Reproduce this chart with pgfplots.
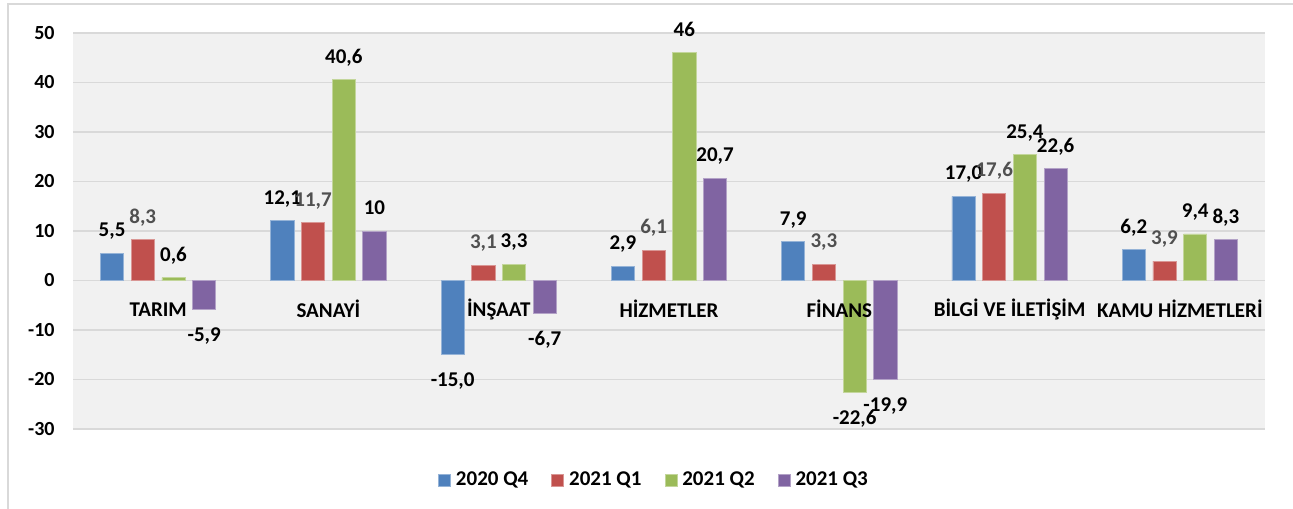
\documentclass[border=0pt]{standalone}
\usepackage{pgfplots}
\usepackage{pgfplotstable}
\pgfplotsset{compat=1.18}
\usepackage{fontspec}
\setmainfont{Carlito}
\definecolor{cBlue}{HTML}{4F81BD}
\definecolor{cRed}{HTML}{C0504D}
\definecolor{cGreen}{HTML}{9BBB59}
\definecolor{cPurple}{HTML}{8064A2}
\definecolor{bgcol}{HTML}{F1F1F1}
\definecolor{gridcol}{HTML}{D9D9D9}
\definecolor{lblgray}{HTML}{505050}

\pgfplotstableread{
x y l
0 5.5 5,5
1 12.1 12,1
2 -15.0 -15,0
3 2.9 2,9
4 7.9 7,9
5 17.0 17,0
6 6.2 6,2
}\qa
\pgfplotstableread{
x y l
0 8.3 8,3
1 11.7 11,7
2 3.1 3,1
3 6.1 6,1
4 3.3 3,3
5 17.6 17,6
6 3.9 3,9
}\qb
\pgfplotstableread{
x y l
0 0.6 0,6
1 40.6 40,6
2 3.3 3,3
3 46 46
4 -22.6 -22,6
5 25.4 25,4
6 9.4 9,4
}\qc
\pgfplotstableread{
x y l
0 -5.9 -5,9
1 10 10
2 -6.7 -6,7
3 20.7 20,7
4 -19.9 -19,9
5 22.6 22,6
6 8.3 8,3
}\qd

\begin{document}
\begin{tikzpicture}
\draw[gridcol, line width=0.8pt] (4pt,-2pt) rectangle (700pt,-300pt);
\begin{axis}[
  at={(36.5pt,-214.5pt)}, anchor=south west,
  scale only axis, width=596pt, height=198pt,
  xmin=-0.5, xmax=6.5, ymin=-30, ymax=50,
  axis background/.style={fill=bgcol},
  axis line style={draw=none},
  ymajorgrids, grid style={gridcol, line width=0.8pt},
  ytick={-30,-20,-10,0,10,20,30,40,50},
  yticklabels={-30,-20,-10,0,10,20,30,40,50},
  xtick=\empty,
  major tick length=0pt,
  yticklabel style={font=\fontsize{10}{12}\selectfont\bfseries, anchor=east, inner sep=0pt, xshift=-9pt},
  ybar, bar width=11.6pt,
  point meta=explicit symbolic,
  visualization depends on={rawy \as \rawy},
  nodes near coords,
  nodes near coords align=vertical,
  every node near coord/.append style={font=\fontsize{10.5}{12}\selectfont\bfseries, inner xsep=0pt, inner ysep=0pt, text height=6.8pt, text depth=0pt, yshift={8pt-(\rawy<0)*24.3pt}},
  legend columns=4,
  legend style={at={(0.4887,-0.129)}, anchor=center, draw=none, fill=none,
    font=\fontsize{10.5}{12}\selectfont\bfseries,
    /tikz/every even column/.append style={column sep=9pt},
    nodes={inner xsep=2.5pt}},
  legend image code/.code={\fill[#1] (0pt,-3pt) rectangle (6pt,3pt);},
  clip=false,
]
\addplot[fill=cBlue, draw=cBlue!60!white, line width=0.4pt, bar shift=-23.03pt, every node near coord/.append style={text=black}] table[x=x,y=y,meta=l] {\qa};
\addplot[fill=cRed, draw=cRed!60!white, line width=0.4pt, bar shift=-7.68pt, every node near coord/.append style={text=lblgray}] table[x=x,y=y,meta=l] {\qb};
\addplot[fill=cGreen, draw=cGreen!60!white, line width=0.4pt, bar shift=7.68pt, every node near coord/.append style={text=black}] table[x=x,y=y,meta=l] {\qc};
\addplot[fill=cPurple, draw=cPurple!60!white, line width=0.4pt, bar shift=23.03pt, every node near coord/.append style={text=black}] table[x=x,y=y,meta=l] {\qd};
\legend{2020 Q4, 2021 Q1, 2021 Q2, 2021 Q3}
\begin{scope}[every node/.style={font=\fontsize{10.5}{12}\selectfont\bfseries, text=black}]
\node at (axis cs:0,-5.8) {TARIM};
\node at (axis cs:1,-5.8) {SANAYİ};
\node at (axis cs:2,-5.8) {İNŞAAT};
\node at (axis cs:3,-5.8) {HİZMETLER};
\node at (axis cs:4,-5.8) {FİNANS};
\node at (axis cs:5,-5.8) {BİLGİ VE İLETİŞİM};
\node at (axis cs:6,-5.8) {KAMU HİZMETLERİ};
\end{scope}
\end{axis}
\pgfresetboundingbox
\useasboundingbox (0,0) rectangle (646.5pt,-254pt);
\end{tikzpicture}
\end{document}
